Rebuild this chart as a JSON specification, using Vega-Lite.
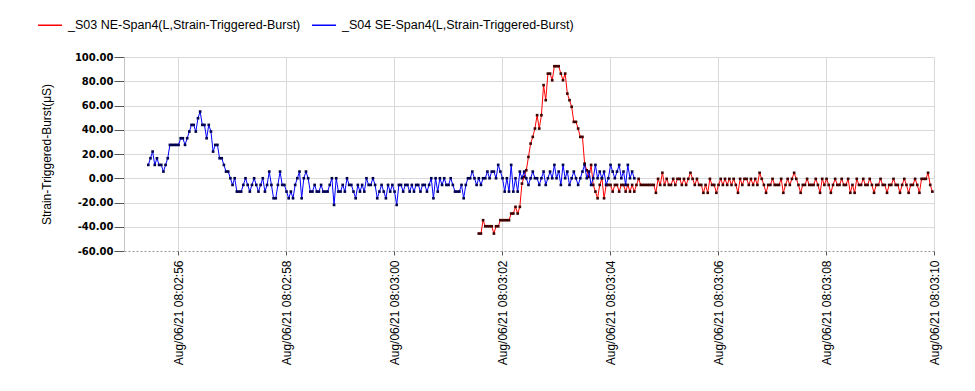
{
 "$schema": "https://vega.github.io/schema/vega-lite/v6.json",
 "width": 810,
 "height": 194,
 "autosize": {"type": "none"},
 "padding": {"left": 124, "top": 57, "right": 41, "bottom": 140},
 "background": "white",
 "config": {"view": {"stroke": null}, "font": "Liberation Sans"},
 "datasets": {
  "s03": [
   {"t":6.57,"v":-45.6},{"t":6.61,"v":-45.6},{"t":6.65,"v":-34.6},{"t":6.69,"v":-39.6},{"t":6.73,"v":-39.6},{"t":6.77,"v":-39.6},{"t":6.81,"v":-39.6},{"t":6.85,"v":-45.6},{"t":6.89,"v":-39.6},{"t":6.93,"v":-39.6},
   {"t":6.97,"v":-34.6},{"t":7.01,"v":-34.6},{"t":7.05,"v":-34.6},{"t":7.09,"v":-34.6},{"t":7.13,"v":-34.6},{"t":7.17,"v":-29.1},{"t":7.21,"v":-29.1},{"t":7.25,"v":-23.6},{"t":7.29,"v":-29.1},{"t":7.33,"v":-23.6},
   {"t":7.37,"v":-4.4},{"t":7.41,"v":1.1},{"t":7.45,"v":6.6},{"t":7.49,"v":17.6},{"t":7.53,"v":28.6},{"t":7.57,"v":34.1},{"t":7.61,"v":41},{"t":7.65,"v":52},{"t":7.69,"v":41},{"t":7.73,"v":52},
   {"t":7.77,"v":76.8},{"t":7.81,"v":64.4},{"t":7.85,"v":86.3},{"t":7.89,"v":86.3},{"t":7.93,"v":80.8},{"t":7.97,"v":92.4},{"t":8.01,"v":92.4},{"t":8.05,"v":92.4},{"t":8.09,"v":86.3},{"t":8.13,"v":80.8},
   {"t":8.17,"v":86.3},{"t":8.21,"v":69.8},{"t":8.25,"v":64.4},{"t":8.29,"v":58.9},{"t":8.33,"v":46.5},{"t":8.37,"v":46.5},{"t":8.41,"v":41},{"t":8.45,"v":34.1},{"t":8.49,"v":34.1},{"t":8.53,"v":12.1},
   {"t":8.57,"v":6.6},{"t":8.61,"v":1.1},
   {"t":8.65,"v":11},{"t":8.69,"v":-5.5},{"t":8.73,"v":-11},{"t":8.77,"v":-16.5},{"t":8.81,"v":-5.5},{"t":8.85,"v":0},{"t":8.89,"v":-16.5},{"t":8.93,"v":-5.5},{"t":8.97,"v":-5.5},{"t":9.01,"v":-5.5},
   {"t":9.05,"v":-11},{"t":9.09,"v":-5.5},{"t":9.13,"v":-5.5},{"t":9.17,"v":-11},{"t":9.21,"v":-5.5},{"t":9.25,"v":-5.5},{"t":9.29,"v":-11},{"t":9.33,"v":-5.5},{"t":9.37,"v":-11},{"t":9.41,"v":-5.5},
   {"t":9.45,"v":-11},
   {"t":9.49,"v":-5.5},{"t":9.53,"v":-0.5},{"t":9.57,"v":-5.5},{"t":9.61,"v":-5.5},{"t":9.65,"v":-5.5},{"t":9.69,"v":-5.5},{"t":9.73,"v":-5.5},{"t":9.77,"v":-5.5},{"t":9.81,"v":-5.5},{"t":9.85,"v":-12},
   {"t":9.89,"v":-0.5},{"t":9.93,"v":-5.5},{"t":9.97,"v":4.5},{"t":10.01,"v":-5.5},{"t":10.05,"v":-0.5},{"t":10.09,"v":-5.5},{"t":10.13,"v":-5.5},{"t":10.17,"v":-0.5},{"t":10.21,"v":-5.5},{"t":10.25,"v":-0.5},
   {"t":10.29,"v":-0.5},{"t":10.33,"v":-5.5},{"t":10.37,"v":-0.5},{"t":10.41,"v":-5.5},{"t":10.45,"v":-0.5},{"t":10.49,"v":4.5},{"t":10.53,"v":-0.5},{"t":10.57,"v":-5.5},{"t":10.61,"v":-0.5},{"t":10.65,"v":-5.5},
   {"t":10.69,"v":-5.5},{"t":10.73,"v":-12},{"t":10.77,"v":-5.5},{"t":10.81,"v":-12},{"t":10.85,"v":-0.5},{"t":10.89,"v":-5.5},{"t":10.93,"v":-5.5},{"t":10.97,"v":-12},{"t":11.01,"v":-5.5},{"t":11.05,"v":-0.5},
   {"t":11.09,"v":-5.5},{"t":11.13,"v":-0.5},{"t":11.17,"v":-5.5},{"t":11.21,"v":-0.5},{"t":11.25,"v":-5.5},{"t":11.29,"v":-0.5},{"t":11.33,"v":-5.5},{"t":11.37,"v":-12},{"t":11.41,"v":-0.5},{"t":11.45,"v":-5.5},
   {"t":11.49,"v":-0.5},{"t":11.53,"v":-0.5},{"t":11.57,"v":-5.5},{"t":11.61,"v":-0.5},{"t":11.65,"v":-5.5},{"t":11.69,"v":-0.5},{"t":11.73,"v":-5.5},{"t":11.77,"v":4.5},{"t":11.81,"v":-0.5},{"t":11.85,"v":-5.5},
   {"t":11.89,"v":-12},{"t":11.93,"v":-5.5},{"t":11.97,"v":-5.5},{"t":12.01,"v":-0.5},{"t":12.05,"v":-5.5},{"t":12.09,"v":-5.5},{"t":12.13,"v":-5.5},{"t":12.17,"v":-0.5},{"t":12.21,"v":-12},{"t":12.25,"v":-5.5},
   {"t":12.29,"v":-0.5},{"t":12.33,"v":-5.5},{"t":12.37,"v":-0.5},{"t":12.41,"v":4.5},{"t":12.45,"v":-0.5},{"t":12.49,"v":-5.5},{"t":12.53,"v":-12},{"t":12.57,"v":-5.5},{"t":12.61,"v":-5.5},{"t":12.65,"v":-0.5},
   {"t":12.69,"v":-5.5},{"t":12.73,"v":-5.5},{"t":12.77,"v":-5.5},{"t":12.81,"v":-0.5},{"t":12.85,"v":-5.5},{"t":12.89,"v":-12},{"t":12.93,"v":-0.5},{"t":12.97,"v":-5.5},{"t":13.01,"v":-0.5},{"t":13.05,"v":-5.5},
   {"t":13.09,"v":-12},{"t":13.13,"v":-5.5},{"t":13.17,"v":-0.5},{"t":13.21,"v":-5.5},{"t":13.25,"v":-5.5},{"t":13.29,"v":-0.5},{"t":13.33,"v":-5.5},{"t":13.37,"v":-5.5},{"t":13.41,"v":-0.5},{"t":13.45,"v":-12},
   {"t":13.49,"v":-5.5},{"t":13.53,"v":-12},{"t":13.57,"v":-0.5},{"t":13.61,"v":-5.5},{"t":13.65,"v":-5.5},{"t":13.69,"v":-0.5},{"t":13.73,"v":-5.5},{"t":13.77,"v":-5.5},{"t":13.81,"v":-0.5},{"t":13.85,"v":-5.5},
   {"t":13.89,"v":-12},{"t":13.93,"v":-5.5},{"t":13.97,"v":-5.5},{"t":14.01,"v":-0.5},{"t":14.05,"v":-5.5},{"t":14.09,"v":-5.5},{"t":14.13,"v":-12},{"t":14.17,"v":-5.5},{"t":14.21,"v":-5.5},{"t":14.25,"v":-0.5},
   {"t":14.29,"v":-5.5},{"t":14.33,"v":-5.5},{"t":14.37,"v":-12},{"t":14.41,"v":-5.5},{"t":14.45,"v":-0.5},{"t":14.49,"v":-5.5},{"t":14.53,"v":-12},{"t":14.57,"v":-5.5},{"t":14.61,"v":-5.5},{"t":14.65,"v":-0.5},
   {"t":14.69,"v":-5.5},{"t":14.73,"v":-12},{"t":14.77,"v":-0.5},{"t":14.81,"v":-0.5},{"t":14.85,"v":-0.5},{"t":14.89,"v":4.5},{"t":14.93,"v":-5.5},{"t":14.97,"v":-11}
  ],
  "s04": [
   {"t":0.45,"v":11},{"t":0.49,"v":16.5},{"t":0.53,"v":22},{"t":0.57,"v":11},{"t":0.61,"v":16.5},{"t":0.65,"v":11},{"t":0.69,"v":11},{"t":0.73,"v":5.5},{"t":0.77,"v":11},{"t":0.81,"v":16.5},
   {"t":0.85,"v":27.5},{"t":0.89,"v":27.5},{"t":0.93,"v":27.5},{"t":0.97,"v":27.5},{"t":1.01,"v":27.5},{"t":1.05,"v":33},{"t":1.09,"v":33},{"t":1.13,"v":27.5},{"t":1.17,"v":33},{"t":1.21,"v":38.5},
   {"t":1.25,"v":44},{"t":1.29,"v":44},{"t":1.33,"v":38.5},{"t":1.37,"v":49.5},{"t":1.41,"v":55},{"t":1.45,"v":44},{"t":1.49,"v":44},{"t":1.53,"v":33},{"t":1.57,"v":44},{"t":1.61,"v":38.5},
   {"t":1.65,"v":22},{"t":1.69,"v":27.5},{"t":1.73,"v":27.5},{"t":1.77,"v":16.5},{"t":1.81,"v":16.5},{"t":1.85,"v":11},{"t":1.89,"v":5.5},{"t":1.93,"v":5.5},{"t":1.97,"v":0},{"t":2.01,"v":-5.5},
   {"t":2.05,"v":0},{"t":2.09,"v":-11},{"t":2.13,"v":-11},{"t":2.17,"v":-11},{"t":2.21,"v":-5.5},{"t":2.25,"v":0},
   {"t":2.29,"v":-5.5},{"t":2.33,"v":-11},{"t":2.37,"v":-5.5},{"t":2.41,"v":0},{"t":2.45,"v":-5.5},{"t":2.49,"v":-11},{"t":2.53,"v":-5.5},{"t":2.57,"v":0},{"t":2.61,"v":-11},{"t":2.65,"v":-5.5},
   {"t":2.69,"v":5.5},{"t":2.73,"v":-5.5},{"t":2.77,"v":-16.5},{"t":2.81,"v":-16.5},{"t":2.85,"v":-5.5},{"t":2.89,"v":5.5},{"t":2.93,"v":-5.5},{"t":2.97,"v":-5.5},{"t":3.01,"v":-11},{"t":3.05,"v":-16.5},
   {"t":3.09,"v":-11},{"t":3.13,"v":-16.5},{"t":3.17,"v":-5.5},{"t":3.21,"v":0},{"t":3.25,"v":5.5},{"t":3.29,"v":-16.5},{"t":3.33,"v":0},{"t":3.37,"v":5.5},{"t":3.41,"v":0},{"t":3.45,"v":-11},
   {"t":3.49,"v":-11},{"t":3.53,"v":-5.5},{"t":3.57,"v":-11},{"t":3.61,"v":-11},{"t":3.65,"v":-5.5},{"t":3.69,"v":-11},{"t":3.73,"v":-11},{"t":3.77,"v":-11},{"t":3.81,"v":-5.5},{"t":3.85,"v":0},
   {"t":3.89,"v":-22},{"t":3.93,"v":0},{"t":3.97,"v":-11},{"t":4.01,"v":-11},{"t":4.05,"v":-5.5},{"t":4.09,"v":-11},{"t":4.13,"v":0},{"t":4.17,"v":-5.5},{"t":4.21,"v":-5.5},{"t":4.25,"v":-11},
   {"t":4.29,"v":-16.5},{"t":4.33,"v":-5.5},{"t":4.37,"v":-11},{"t":4.41,"v":-5.5},{"t":4.45,"v":-11},{"t":4.49,"v":0},{"t":4.53,"v":-5.5},{"t":4.57,"v":-5.5},{"t":4.61,"v":0},{"t":4.65,"v":-5.5},
   {"t":4.69,"v":-16.5},{"t":4.73,"v":-11},{"t":4.77,"v":-5.5},{"t":4.81,"v":-11},{"t":4.85,"v":-16.5},{"t":4.89,"v":-5.5},{"t":4.93,"v":-11},{"t":4.97,"v":-5.5},{"t":5.01,"v":-11},{"t":5.05,"v":-22},
   {"t":5.09,"v":-5.5},{"t":5.13,"v":-5.5},{"t":5.17,"v":-11},{"t":5.21,"v":-5.5},{"t":5.25,"v":-5.5},{"t":5.29,"v":-11},{"t":5.33,"v":-5.5},{"t":5.37,"v":-11},{"t":5.41,"v":-5.5},{"t":5.45,"v":-5.5},
   {"t":5.49,"v":-11},{"t":5.53,"v":-5.5},{"t":5.57,"v":-5.5},{"t":5.61,"v":-11},{"t":5.65,"v":-5.5},{"t":5.69,"v":0},{"t":5.73,"v":-16.5},{"t":5.77,"v":0},{"t":5.81,"v":-11},{"t":5.85,"v":0},
   {"t":5.89,"v":-5.5},{"t":5.93,"v":0},{"t":5.97,"v":-5.5},{"t":6.01,"v":-5.5},{"t":6.05,"v":0},{"t":6.09,"v":-5.5},{"t":6.13,"v":-11},{"t":6.17,"v":-11},{"t":6.21,"v":-11},{"t":6.25,"v":-5.5},
   {"t":6.29,"v":-16.5},{"t":6.33,"v":-5.5},{"t":6.37,"v":0},{"t":6.41,"v":0},{"t":6.45,"v":5.5},{"t":6.49,"v":0},{"t":6.53,"v":-5.5},{"t":6.57,"v":0},{"t":6.61,"v":-5.5},{"t":6.65,"v":0},
   {"t":6.69,"v":0},{"t":6.73,"v":5.5},{"t":6.77,"v":0},{"t":6.81,"v":5.5},{"t":6.85,"v":5.5},{"t":6.89,"v":0},{"t":6.93,"v":11},{"t":6.97,"v":5.5},{"t":7.01,"v":0},{"t":7.05,"v":-11},
   {"t":7.09,"v":0},{"t":7.13,"v":-11},{"t":7.17,"v":11},{"t":7.21,"v":-11},{"t":7.25,"v":0},{"t":7.29,"v":-11},{"t":7.33,"v":5.5},
   {"t":7.37,"v":0},{"t":7.41,"v":5.5},{"t":7.45,"v":0},{"t":7.49,"v":-5.5},{"t":7.53,"v":0},{"t":7.57,"v":5.5},{"t":7.61,"v":0},{"t":7.65,"v":0},{"t":7.69,"v":-5.5},{"t":7.73,"v":0},
   {"t":7.77,"v":5.5},{"t":7.81,"v":-5.5},{"t":7.85,"v":0},{"t":7.89,"v":5.5},{"t":7.93,"v":0},{"t":7.97,"v":11},{"t":8.01,"v":0},{"t":8.05,"v":5.5},{"t":8.09,"v":-5.5},{"t":8.13,"v":11},
   {"t":8.17,"v":0},{"t":8.21,"v":5.5},{"t":8.25,"v":-5.5},{"t":8.29,"v":0},{"t":8.33,"v":5.5},{"t":8.37,"v":0},{"t":8.41,"v":-5.5},{"t":8.45,"v":0},{"t":8.49,"v":5.5},{"t":8.53,"v":11},
   {"t":8.57,"v":0},{"t":8.61,"v":5.5},{"t":8.65,"v":-5.5},{"t":8.69,"v":0},{"t":8.73,"v":11},{"t":8.77,"v":0},{"t":8.81,"v":5.5},{"t":8.85,"v":0},{"t":8.89,"v":5.5},{"t":8.93,"v":-5.5},
   {"t":8.97,"v":0},{"t":9.01,"v":11},{"t":9.05,"v":5.5},{"t":9.09,"v":0},{"t":9.13,"v":5.5},{"t":9.17,"v":11},{"t":9.21,"v":0},{"t":9.25,"v":5.5},{"t":9.29,"v":-5.5},{"t":9.33,"v":11},
   {"t":9.37,"v":0},{"t":9.41,"v":5.5},{"t":9.45,"v":0}
  ]
 },
 "encoding": {
  "x": {
   "field": "t", "type": "quantitative",
   "scale": {"domain": [0, 15], "nice": false, "zero": false},
   "axis": {
    "values": [1, 3, 5, 7, 9, 11, 13, 15],
    "labelExpr": "timeFormat(datetime(2021, 7, 6, 8, 2, 55 + round(datum.value)), '%b/%d/%y %H:%M:%S')",
    "labelAngle": -90, "labelFont": "Liberation Sans", "labelFontSize": 12, "labelColor": "black",
    "labelPadding": 5, "labelOverlap": false, "labelFlush": false, "labelBound": false,
    "title": null, "grid": true, "gridColor": "#d9d9d9", "gridWidth": 1,
    "tickSize": 4, "tickColor": "#555", "domainColor": "#999", "domainDash": [2, 2], "domainWidth": 1
   }
  },
  "y": {
   "field": "v", "type": "quantitative",
   "scale": {"domain": [-60, 100], "nice": false, "zero": false},
   "axis": {
    "values": [-60, -40, -20, 0, 20, 40, 60, 80, 100],
    "labelExpr": "replace(format(datum.value, '.2f'), '\u2212', '-')",
    "labelFont": "DejaVu Sans", "labelFontWeight": "bold", "labelFontSize": 10, "labelColor": "black",
    "labelPadding": 1, "tickSize": 10, "tickColor": "#555", "domainColor": "#c4c4c4",
    "grid": true, "gridColor": {"condition": {"test": "datum.value === -60", "value": "transparent"}, "value": "#d9d9d9"},
    "title": "Strain-Triggered-Burst(μS)", "titleFont": "Liberation Sans", "titleFontSize": 12,
    "titleFontWeight": "normal", "titleColor": "black", "titlePadding": 21
   }
  }
 },
 "layer": [
  {
   "data": {"name": "s03"},
   "mark": {"type": "line", "strokeWidth": 1},
   "encoding": {
    "color": {
     "datum": "_S03 NE-Span4(L,Strain-Triggered-Burst)",
     "scale": {"domain": ["_S03 NE-Span4(L,Strain-Triggered-Burst)", "_S04 SE-Span4(L,Strain-Triggered-Burst)"], "range": ["#ff0000", "#0000ff"]},
     "legend": {
      "orient": "none", "legendX": -87, "legendY": -45, "direction": "horizontal", "title": null,
      "symbolType": "stroke", "symbolSize": 576, "symbolStrokeWidth": 1.5,
      "labelFont": "Liberation Sans", "labelFontSize": 12.5, "labelColor": "black", "labelOffset": 5,
      "labelLimit": 400, "columnPadding": 8, "padding": 0
     }
    }
   }
  },
  {
   "data": {"name": "s03"},
   "mark": {"type": "square", "size": 7, "color": "#400000", "filled": true, "opacity": 1},
   "encoding": {}
  },
  {
   "data": {"name": "s04"},
   "mark": {"type": "line", "strokeWidth": 1},
   "encoding": {"color": {"datum": "_S04 SE-Span4(L,Strain-Triggered-Burst)"}}
  },
  {
   "data": {"name": "s04"},
   "mark": {"type": "square", "size": 7, "color": "#000050", "filled": true, "opacity": 1},
   "encoding": {}
  }
 ]
}
